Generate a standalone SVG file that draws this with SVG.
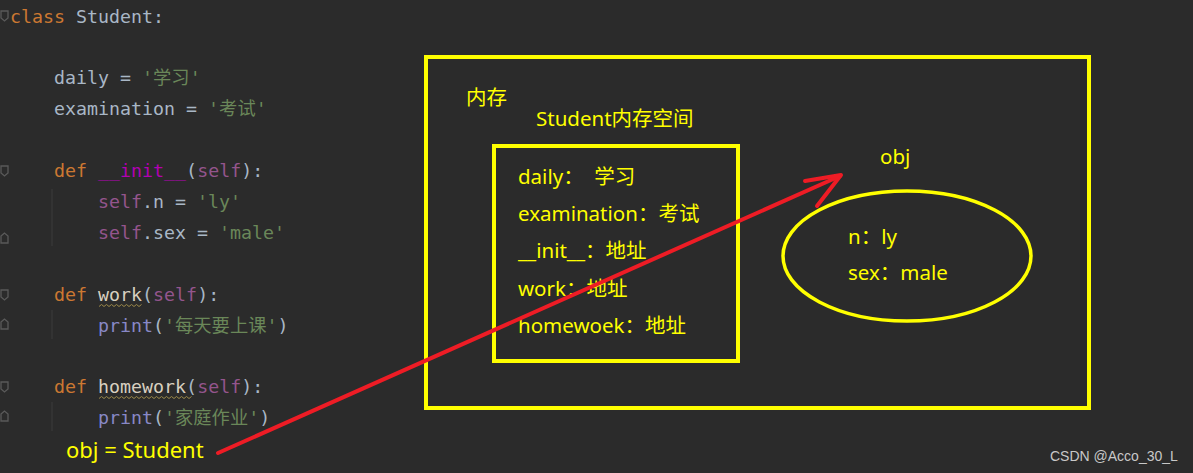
<svg xmlns="http://www.w3.org/2000/svg" width="1193" height="473" viewBox="0 0 1193 473">
<style>
.code{font-family:"DejaVu Sans Mono","Noto Sans CJK SC",monospace;font-size:18.3px;white-space:pre;fill:#a9b7c6}
.kw{fill:#cc7832}.str{fill:#6a8759}.slf{fill:#94558d}.mag{fill:#b200b2}.fn{fill:#d8d0c0}.bi{fill:#8888c6}
.lbl{font-family:"Noto Sans","Noto Sans CJK SC",sans-serif;font-size:20.5px;fill:#ffff00;white-space:pre}
.box{fill:none;stroke:#ffff00;stroke-width:4}
.gut{fill:none;stroke:#5a5a5a;stroke-width:1.3}
.guide{stroke:#3c3c3c;stroke-width:1}
.wave{fill:none;stroke:#9c8a4a;stroke-width:1}
</style>
<rect width="1193" height="473" fill="#2b2b2b"/>
<g id="gutter">
<path class="gut" d="M1 11h7v7l-3.5 3-3.5-3z"/>
<path class="gut" d="M1 166h7v7l-3.5 3-3.5-3z"/>
<path class="gut" d="M1 236l3.5-3 3.5 3v7h-7z"/>
<path class="gut" d="M1 290h7v7l-3.5 3-3.5-3z"/>
<path class="gut" d="M1 322l3.5-3 3.5 3v7h-7z"/>
<path class="gut" d="M1 382h7v7l-3.5 3-3.5-3z"/>
<path class="gut" d="M1 414l3.5-3 3.5 3v7h-7z"/>
<line class="guide" x1="52" y1="189" x2="52" y2="246"/>
<line class="guide" x1="52" y1="310" x2="52" y2="339"/>
<line class="guide" x1="52" y1="402" x2="52" y2="431"/>
</g>
<g id="code">
<text class="code" x="10" y="23"><tspan class="kw">class</tspan> Student:</text>
<text class="code" x="54" y="84">daily = <tspan class="str">'学习'</tspan></text>
<text class="code" x="54" y="115">examination = <tspan class="str">'考试'</tspan></text>
<text class="code" x="54" y="177"><tspan class="kw">def</tspan> <tspan class="mag">__init__</tspan>(<tspan class="slf">self</tspan>):</text>
<text class="code" x="98" y="208"><tspan class="slf">self</tspan>.n = <tspan class="str">'ly'</tspan></text>
<text class="code" x="98" y="239"><tspan class="slf">self</tspan>.sex = <tspan class="str">'male'</tspan></text>
<text class="code" x="54" y="301"><tspan class="kw">def</tspan> <tspan class="fn">work</tspan>(<tspan class="slf">self</tspan>):</text>
<text class="code" x="98" y="332"><tspan class="bi">print</tspan>(<tspan class="str">'每天要上课'</tspan>)</text>
<text class="code" x="54" y="393"><tspan class="kw">def</tspan> <tspan class="fn">homework</tspan>(<tspan class="slf">self</tspan>):</text>
<text class="code" x="98" y="424"><tspan class="bi">print</tspan>(<tspan class="str">'家庭作业'</tspan>)</text>
<path class="wave" d="M99 306.5l2.5-2 2.5 2 2.5-2 2.5 2 2.5-2 2.5 2 2.5-2 2.5 2 2.5-2 2.5 2 2.5-2 2.5 2 2.5-2 2.5 2 2.5-2 2.5 2 2.5-2"/>
<path class="wave" d="M99 398.5l2.5-2 2.5 2 2.5-2 2.5 2 2.5-2 2.5 2 2.5-2 2.5 2 2.5-2 2.5 2 2.5-2 2.5 2 2.5-2 2.5 2 2.5-2 2.5 2 2.5-2 2.5 2 2.5-2 2.5 2 2.5-2 2.5 2 2.5-2 2.5 2 2.5-2 2.5 2 2.5-2 2.5 2 2.5-2 2.5 2 2.5-2 2.5 2 2.5-2 2.5 2 2.5-2 2.5 2 2.5-2"/>
<text class="lbl" x="66" y="458" style="font-size:22px">obj = Student</text>
</g>
<g id="memory">
<rect class="box" x="426" y="57" width="663" height="351"/>
<text class="lbl" x="466" y="105">内存</text>
</g>
<g id="student-space">
<text class="lbl" x="536" y="126">Student内存空间</text>
<rect class="box" x="494" y="146" width="244" height="215"/>
<text class="lbl" x="518" y="184">daily：  学习</text>
<text class="lbl" x="518" y="221">examination：考试</text>
<text class="lbl" x="518" y="258">__init__：地址</text>
<text class="lbl" x="518" y="296">work：地址</text>
<text class="lbl" x="518" y="333">homewoek：地址</text>
</g>
<g id="obj">
<text class="lbl" x="880" y="164">obj</text>
<ellipse cx="907" cy="256" rx="124" ry="65" fill="none" stroke="#ffff00" stroke-width="3.5"/>
<text class="lbl" x="848" y="244">n：ly</text>
<text class="lbl" x="848" y="280">sex：male</text>
</g>
<g id="connectors" fill="none" stroke="#ee1c25" stroke-width="4" stroke-linecap="round" stroke-linejoin="round">
<path d="M218 453L840 176"/>
<path d="M805 181L841 175L817 206"/>
</g>
<text x="1050" y="461" font-family="Liberation Sans,Arial,sans-serif" font-size="14" fill="#c8c8c8">CSDN @Acco_30_L</text>
</svg>
